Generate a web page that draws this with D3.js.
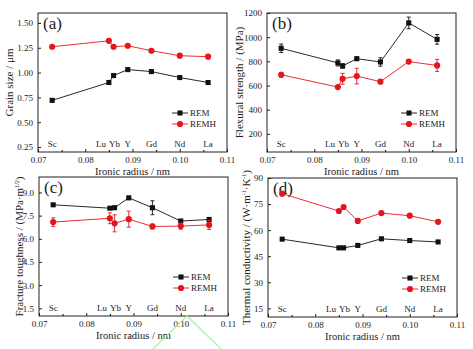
<!DOCTYPE html>
<html lang="en">
<head>
  <meta charset="utf-8">
  <title>REM vs REMH properties</title>
  <script src="https://d3js.org/d3.v7.min.js"></script>
  <style>
    body { margin: 0; background: #fff; }
    svg text { font-family: "Liberation Serif", "Times New Roman", "DejaVu Serif", serif !important; fill: #222; }
  </style>
</head>
<body>
<div id="chart"></div>
<script>
// ionic radius (nm) of each rare-earth element
var radius = [0.073, 0.085, 0.086, 0.089, 0.094, 0.100, 0.106];
var elements = ["Sc", "Lu", "Yb", "Y", "Gd", "Nd", "La"];
var xTicks = [0.07, 0.08, 0.09, 0.10, 0.11];

// (a) grain size, um
var grainREM  = [0.72, 0.90, 0.97, 1.03, 1.01, 0.95, 0.90];
var grainREMH = [1.26, 1.32, 1.26, 1.27, 1.22, 1.17, 1.16];

// (b) flexural strength, MPa
var flexREM     = [908, 787, 762, 822, 795, 1118, 982];
var flexREMErr  = [35, 25, 18, 12, 35, 48, 40];
var flexREMH    = [689, 587, 656, 678, 632, 798, 766];
var flexREMHErr = [20, 10, 45, 65, 10, 10, 50];

// (c) fracture toughness, MPa·m^1/2
var toughREM     = [8.20, 7.98, 8.01, 8.65, 8.01, 7.15, 7.25];
var toughREMErr  = [0.05, 0.08, 0.10, 0.08, 0.45, 0.05, 0.06];
var toughREMH    = [7.08, 7.33, 7.00, 7.27, 6.80, 6.82, 6.90];
var toughREMHErr = [0.28, 0.35, 0.55, 0.52, 0.15, 0.20, 0.30];

// (d) thermal conductivity, W·m-1·K-1
var thermREM  = [54.8, 49.8, 49.8, 51.2, 55.0, 54.0, 53.2];
var thermREMH = [81.0, 71.0, 73.3, 65.3, 69.8, 68.3, 64.8];

var W = 473, H = 349;
var pw = 189, ph = 139;
var black = "#111", red = "#e3161d";
var serif = "'Liberation Serif', 'Times New Roman', 'DejaVu Serif', serif";

var svg = d3.select("#chart").append("svg")
  .attr("width", W).attr("height", H)
  .attr("font-family", serif);

var panels = [
  { tag: "(a)", left: 38, top: 13, domain: [0.2, 1.6], ticks: [0.25, 0.5, 0.75, 1.0, 1.25, 1.5],
    fmt: d3.format(".2f"), rem: grainREM, remh: grainREMH, titleX: 13,
    title: function(t) { t.text("Grain size / \u03bcm"); } },
  { tag: "(b)", left: 267, top: 13, domain: [50, 1200], ticks: [200, 400, 600, 800, 1000, 1200],
    fmt: d3.format("d"), rem: flexREM, remh: flexREMH, remErr: flexREMErr, remhErr: flexREMHErr, titleX: 243,
    title: function(t) { t.text("Flexural strength / (MPa)"); } },
  { tag: "(c)", left: 39, top: 177, domain: [1.0, 10.0], ticks: [1.5, 3.0, 4.5, 6.0, 7.5, 9.0],
    fmt: d3.format(".1f"), rem: toughREM, remh: toughREMH, remErr: toughREMErr, remhErr: toughREMHErr, titleX: 23,
    title: function(t) {
      t.append("tspan").text("Fracture toughness / (MPa\u00b7m");
      t.append("tspan").attr("dy", -4).style("font-size", "6px").text("1/2");
      t.append("tspan").attr("dy", 4).text(")");
    } },
  { tag: "(d)", left: 268, top: 178, domain: [10, 90], ticks: [15, 30, 45, 60, 75, 90],
    fmt: d3.format("d"), rem: thermREM, remh: thermREMH, titleX: 250,
    title: function(t) {
      t.append("tspan").text("Thermal conductivity / (W\u00b7m");
      t.append("tspan").attr("dy", -4).style("font-size", "6px").text("-1");
      t.append("tspan").attr("dy", 4).text("\u00b7K");
      t.append("tspan").attr("dy", -4).style("font-size", "6px").text("-1");
      t.append("tspan").attr("dy", 4).text(")");
    } }
];

panels.forEach(function(p) {
  var g = svg.append("g").attr("transform", "translate(" + p.left + "," + p.top + ")");
  var x = d3.scaleLinear().domain([0.07, 0.11]).range([0, pw]);
  var y = d3.scaleLinear().domain(p.domain).range([ph, 0]);

  // axes with inward ticks
  var xAx = g.append("g").attr("transform", "translate(0," + ph + ")")
    .call(d3.axisBottom(x).tickValues(xTicks).tickSize(-3).tickPadding(5).tickFormat(d3.format(".2f")));
  g.append("g").attr("transform", "translate(0," + ph + ")")
    .call(d3.axisBottom(x).tickValues([0.075, 0.085, 0.095, 0.105]).tickSize(-2).tickFormat(""))
    .select(".domain").remove();
  var yAx = g.append("g")
    .call(d3.axisLeft(y).tickValues(p.ticks).tickSize(-3).tickPadding(5).tickFormat(p.fmt));
  [xAx, yAx].forEach(function(a) {
    a.attr("font-family", serif).attr("font-size", 9);
    a.selectAll("text").attr("fill", "#333");
    a.selectAll("line").attr("stroke", "#222");
    a.select(".domain").remove();
  });

  g.append("rect").attr("width", pw).attr("height", ph)
    .attr("fill", "none").attr("stroke", "#222").attr("stroke-width", 1);

  // element names along the bottom; Lu and Yb sit side by side
  var mid = x(0.0847);
  g.selectAll(".el").data(elements).enter().append("text")
    .attr("x", function(d, i) {
      if (d === "Lu") return mid - 1.5;
      if (d === "Yb") return mid + 1.5;
      return x(radius[i]);
    })
    .attr("y", ph - 5)
    .attr("text-anchor", function(d) { return d === "Lu" ? "end" : d === "Yb" ? "start" : "middle"; })
    .style("font-size", "9px")
    .text(function(d) { return d; });

  g.append("text").attr("x", 5).attr("y", 16).style("font-size", "17px").text(p.tag);

  g.append("text").attr("x", pw / 2).attr("y", ph + 23).attr("text-anchor", "middle")
    .style("font-size", "10.5px").text("Ironic radius / nm");

  var t = svg.append("text")
    .attr("transform", "translate(" + p.titleX + "," + (p.top + ph / 2) + ") rotate(-90)")
    .attr("text-anchor", "middle").style("font-size", "11px");
  p.title(t);

  var line = d3.line().x(function(d, i) { return x(radius[i]); }).y(function(d) { return y(d); });

  function series(vals, errs, color, shape) {
    g.append("path").datum(vals).attr("d", line)
      .attr("fill", "none").attr("stroke", color).attr("stroke-width", 0.9);
    if (errs) {
      vals.forEach(function(v, i) {
        var cx = x(radius[i]), y0 = y(v - errs[i]), y1 = y(v + errs[i]);
        g.append("path")
          .attr("d", "M" + cx + "," + y0 + "V" + y1 + "M" + (cx - 2) + "," + y0 + "H" + (cx + 2) + "M" + (cx - 2) + "," + y1 + "H" + (cx + 2))
          .attr("stroke", color).attr("stroke-width", 0.9).attr("fill", "none");
      });
    }
    var sym = d3.symbol().type(shape === "square" ? d3.symbolSquare : d3.symbolCircle).size(shape === "square" ? 26 : 30);
    g.selectAll(null).data(vals).enter().append("path")
      .attr("d", sym)
      .attr("transform", function(d, i) { return "translate(" + x(radius[i]) + "," + y(d) + ")"; })
      .attr("fill", color);
  }
  series(p.rem, p.remErr, black, "square");
  series(p.remh, p.remhErr, red, "circle");

  // legend
  var lg = g.append("g").attr("transform", "translate(" + (pw - 55) + "," + (ph - 39) + ")");
  [["REM", black, "square"], ["REMH", red, "circle"]].forEach(function(s, i) {
    var row = lg.append("g").attr("transform", "translate(0," + (i * 11) + ")");
    row.append("line").attr("x1", 0).attr("x2", 16).attr("stroke", s[1]).attr("stroke-width", 0.9);
    row.append("path")
      .attr("d", d3.symbol().type(s[2] === "square" ? d3.symbolSquare : d3.symbolCircle).size(s[2] === "square" ? 26 : 30))
      .attr("transform", "translate(8,0)").attr("fill", s[1]);
    row.append("text").attr("x", 18).attr("y", 3).style("font-size", "9px").text(s[0]);
  });
});

// faint green stroke over the lower-left panel
svg.append("path")
  .attr("d", "M153,349L187,316L221,349")
  .attr("fill", "none").attr("stroke", "#9ef09e").attr("stroke-width", 1.3).attr("opacity", 0.85);
</script>
</body>
</html>
